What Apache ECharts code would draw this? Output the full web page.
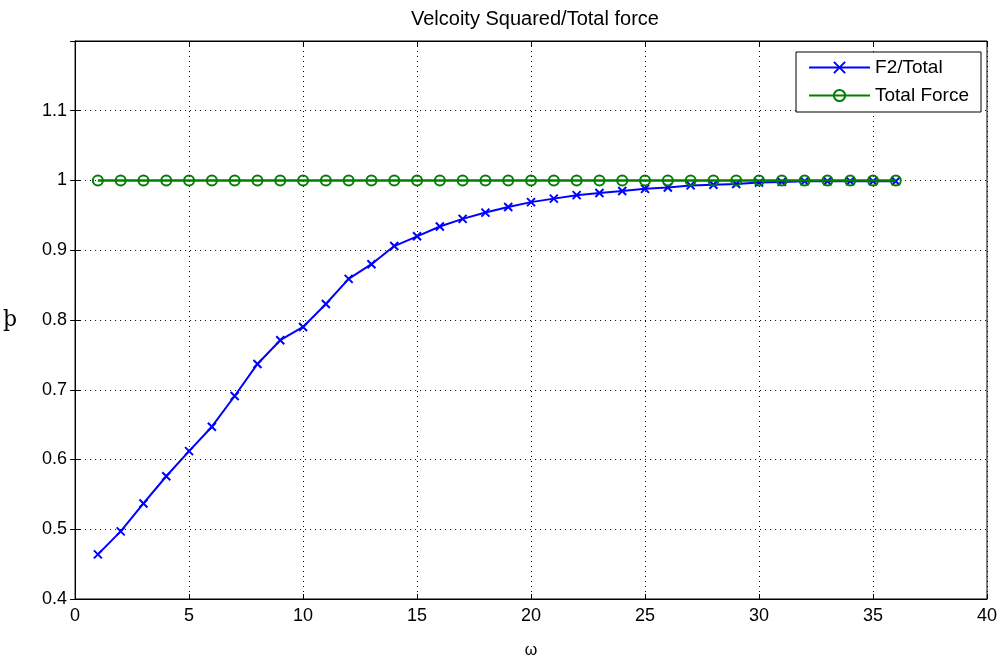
<!DOCTYPE html>
<html>
<head>
<meta charset="utf-8">
<script src="https://cdn.jsdelivr.net/npm/echarts@6/dist/echarts.min.js"></script>
<style>html,body{margin:0;padding:0;background:#fff;}#c{width:1006px;height:664px;}</style>
</head>
<body>
<div id="c"></div>
<script>
const omega = [1,2,3,4,5,6,7,8,9,10,11,12,13,14,15,16,17,18,19,20,21,22,23,24,25,26,27,28,29,30,31,32,33,34,35,36];
const f2Total = [0.464,0.497,0.537,0.576,0.612,0.647,0.691,0.737,0.771,0.790,0.823,0.859,0.880,0.906,0.920,0.934,0.945,0.954,0.962,0.969,0.974,0.979,0.982,0.985,0.988,0.990,0.993,0.994,0.995,0.997,0.998,0.999,0.999,0.999,0.999,0.999];
const totalForce = [1,1,1,1,1,1,1,1,1,1,1,1,1,1,1,1,1,1,1,1,1,1,1,1,1,1,1,1,1,1,1,1,1,1,1,1];
const titleText = 'Velcoity Squared/Total force';
const xName = 'ω';
const yName = 'þ';
const seriesNames = ['F2/Total', 'Total Force'];

const chart = echarts.init(document.getElementById('c'));
const font = 'Arial, "Liberation Sans", sans-serif';
const tickStyle = {show: true, inside: true, length: 5, lineStyle: {color: '#000', width: 1}};
const gridLine = {show: true, lineStyle: {color: '#000', type: [1, 4], width: 1}};
chart.setOption({
  animation: false,
  backgroundColor: '#fff',
  title: {text: titleText, left: 406, top: 4, textStyle: {fontFamily: font, fontSize: 20, fontWeight: 'normal', color: '#000'}},
  legend: {
    right: 25, top: 52, orient: 'vertical', itemWidth: 61, itemHeight: 14, itemGap: 9,
    backgroundColor: '#fff', borderColor: '#000', borderWidth: 1, padding: [6, 12, 7, 12],
    textStyle: {fontFamily: font, fontSize: 19, color: '#000'},
    data: seriesNames
  },
  grid: {left: 75, right: 19, top: 41, bottom: 61, show: true, borderColor: '#000', borderWidth: 1},
  xAxis: [{
    type: 'value', min: 0, max: 40, interval: 5, position: 'bottom',
    name: xName, nameLocation: 'middle', nameGap: 44,
    nameTextStyle: {fontFamily: font, fontSize: 16, color: '#000'},
    axisLine: {show: true, lineStyle: {color: '#000'}},
    axisTick: tickStyle, splitLine: gridLine,
    axisLabel: {fontFamily: font, fontSize: 18, color: '#000', margin: 8}
  }, {
    type: 'value', min: 0, max: 40, interval: 5, position: 'top',
    axisLine: {show: true, lineStyle: {color: '#000'}}, axisTick: tickStyle,
    axisLabel: {show: false}, splitLine: {show: false}
  }],
  yAxis: [{
    type: 'value', min: 0.4, max: 1.2, interval: 0.1, position: 'left',
    name: yName, nameLocation: 'middle', nameGap: 58, nameRotate: 0,
    nameTextStyle: {fontFamily: '"DejaVu Serif", "Liberation Serif", serif', fontSize: 22, color: '#000'},
    axisLine: {show: true, lineStyle: {color: '#000'}},
    axisTick: tickStyle, splitLine: gridLine,
    axisLabel: {fontFamily: font, fontSize: 18, color: '#000', margin: 8,
      formatter: v => (Math.abs(v - 1.2) < 1e-6 ? '' : String(Math.round(v * 10) / 10))}
  }, {
    type: 'value', min: 0.4, max: 1.2, interval: 0.1, position: 'right',
    axisLine: {show: true, lineStyle: {color: '#000'}}, axisTick: tickStyle,
    axisLabel: {show: false}, splitLine: {show: false}
  }],
  series: [{
    name: seriesNames[0], type: 'line',
    data: omega.map((x, i) => [x, f2Total[i]]),
    symbol: 'path://M0,0L10,10M10,0L0,10', symbolSize: 8,
    lineStyle: {color: '#0000ff', width: 2},
    itemStyle: {color: '#0000ff', borderColor: '#0000ff', borderWidth: 2},
    z: 2
  }, {
    name: seriesNames[1], type: 'line',
    data: omega.map((x, i) => [x, totalForce[i]]),
    symbol: 'circle', symbolSize: 10,
    lineStyle: {color: '#007f00', width: 2.5},
    itemStyle: {color: 'rgba(0,0,0,0)', borderColor: '#007f00', borderWidth: 2},
    z: 3
  }]
});
</script>
</body>
</html>
